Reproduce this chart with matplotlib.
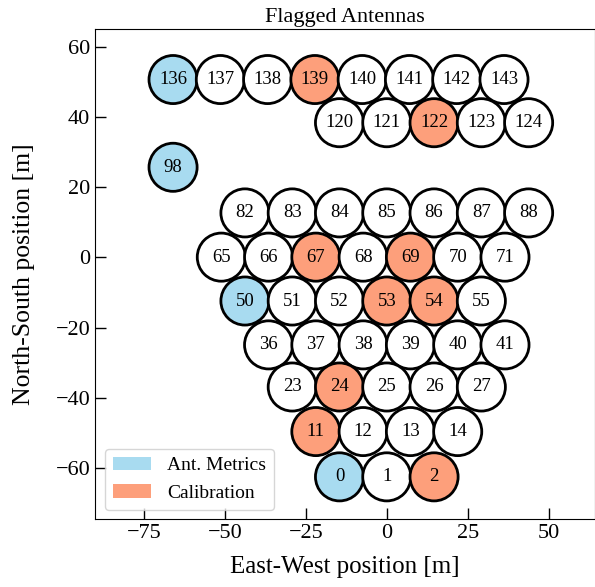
import numpy as np
import matplotlib
matplotlib.use("Agg")
import matplotlib.pyplot as plt
from matplotlib.patches import Patch

plt.rcParams['font.family'] = ['Liberation Serif', 'DejaVu Serif']
plt.rcParams['mathtext.fontset'] = 'stix'

# --- données --------------------------------------------------------------
antennes = [136, 137, 138, 139, 140, 141, 142, 143,
            120, 121, 122, 123, 124,
            98,
            82, 83, 84, 85, 86, 87, 88,
            65, 66, 67, 68, 69, 70, 71,
            50, 51, 52, 53, 54, 55,
            36, 37, 38, 39, 40, 41,
            23, 24, 25, 26, 27,
            11, 12, 13, 14,
            0, 1, 2]
est = [-66.0, -51.4, -36.8, -22.2, -7.6, 7.0, 21.6, 36.2,
       -14.6, 0.0, 14.6, 29.2, 43.8,
       -66.0,
       -43.8, -29.2, -14.6, 0.0, 14.6, 29.2, 43.8,
       -51.1, -36.5, -21.9, -7.3, 7.3, 21.9, 36.5,
       -43.8, -29.2, -14.6, 0.0, 14.6, 29.2,
       -36.5, -21.9, -7.3, 7.3, 21.9, 36.5,
       -29.2, -14.6, 0.0, 14.6, 29.2,
       -21.9, -7.3, 7.3, 21.9,
       -14.6, 0.0, 14.6]
nord = [50.7] * 8 + [38.4] * 5 + [25.7] + [12.7] * 7 + [0.1] * 7 \
    + [-12.4] * 6 + [-24.9] * 6 + [-36.9] * 5 + [-49.6] * 4 + [-62.5] * 3

flag_metrics = [136, 98, 50, 0]
flag_calib = [139, 122, 67, 69, 53, 54, 24, 11, 2]

COUL_METRICS = '#a8dbf0'
COUL_CALIB = '#fd9f7b'

# --- figure -----------------------------------------------------------------
fig = plt.figure(figsize=(5.95, 5.87), dpi=100)
ax = fig.add_axes([0.1597, 0.1153, 0.8403, 0.8347])

couleurs = []
for a in antennes:
    if a in flag_metrics:
        couleurs.append(COUL_METRICS)
    elif a in flag_calib:
        couleurs.append(COUL_CALIB)
    else:
        couleurs.append('white')

ax.scatter(est, nord, s=1200, c=couleurs, edgecolors='black', linewidths=2.0, zorder=2)
for a, x, y in zip(antennes, est, nord):
    ax.text(x, y, str(a), ha='center', va='center', fontsize=13.5, zorder=3)

ax.set_xlim(-90.1, 64.3)
ax.set_ylim(-74.6, 65.0)
ax.set_xticks([-75, -50, -25, 0, 25, 50])
ax.set_yticks([-60, -40, -20, 0, 20, 40, 60])
ax.tick_params(direction='in', length=8, width=1, labelsize=16)
ax.set_xlabel("East-West position [m]", fontsize=18, labelpad=9)
ax.set_ylabel("North-South position [m]", fontsize=18.5, labelpad=15)
ax.set_title("Flagged Antennas", fontsize=16, pad=5)

poignees = [Patch(facecolor=COUL_METRICS, label='Ant. Metrics'),
            Patch(facecolor=COUL_CALIB, label='Calibration')]
ax.legend(handles=poignees, loc='lower left', fontsize=14, framealpha=0.8)

fig.savefig("out.png", dpi=100)
